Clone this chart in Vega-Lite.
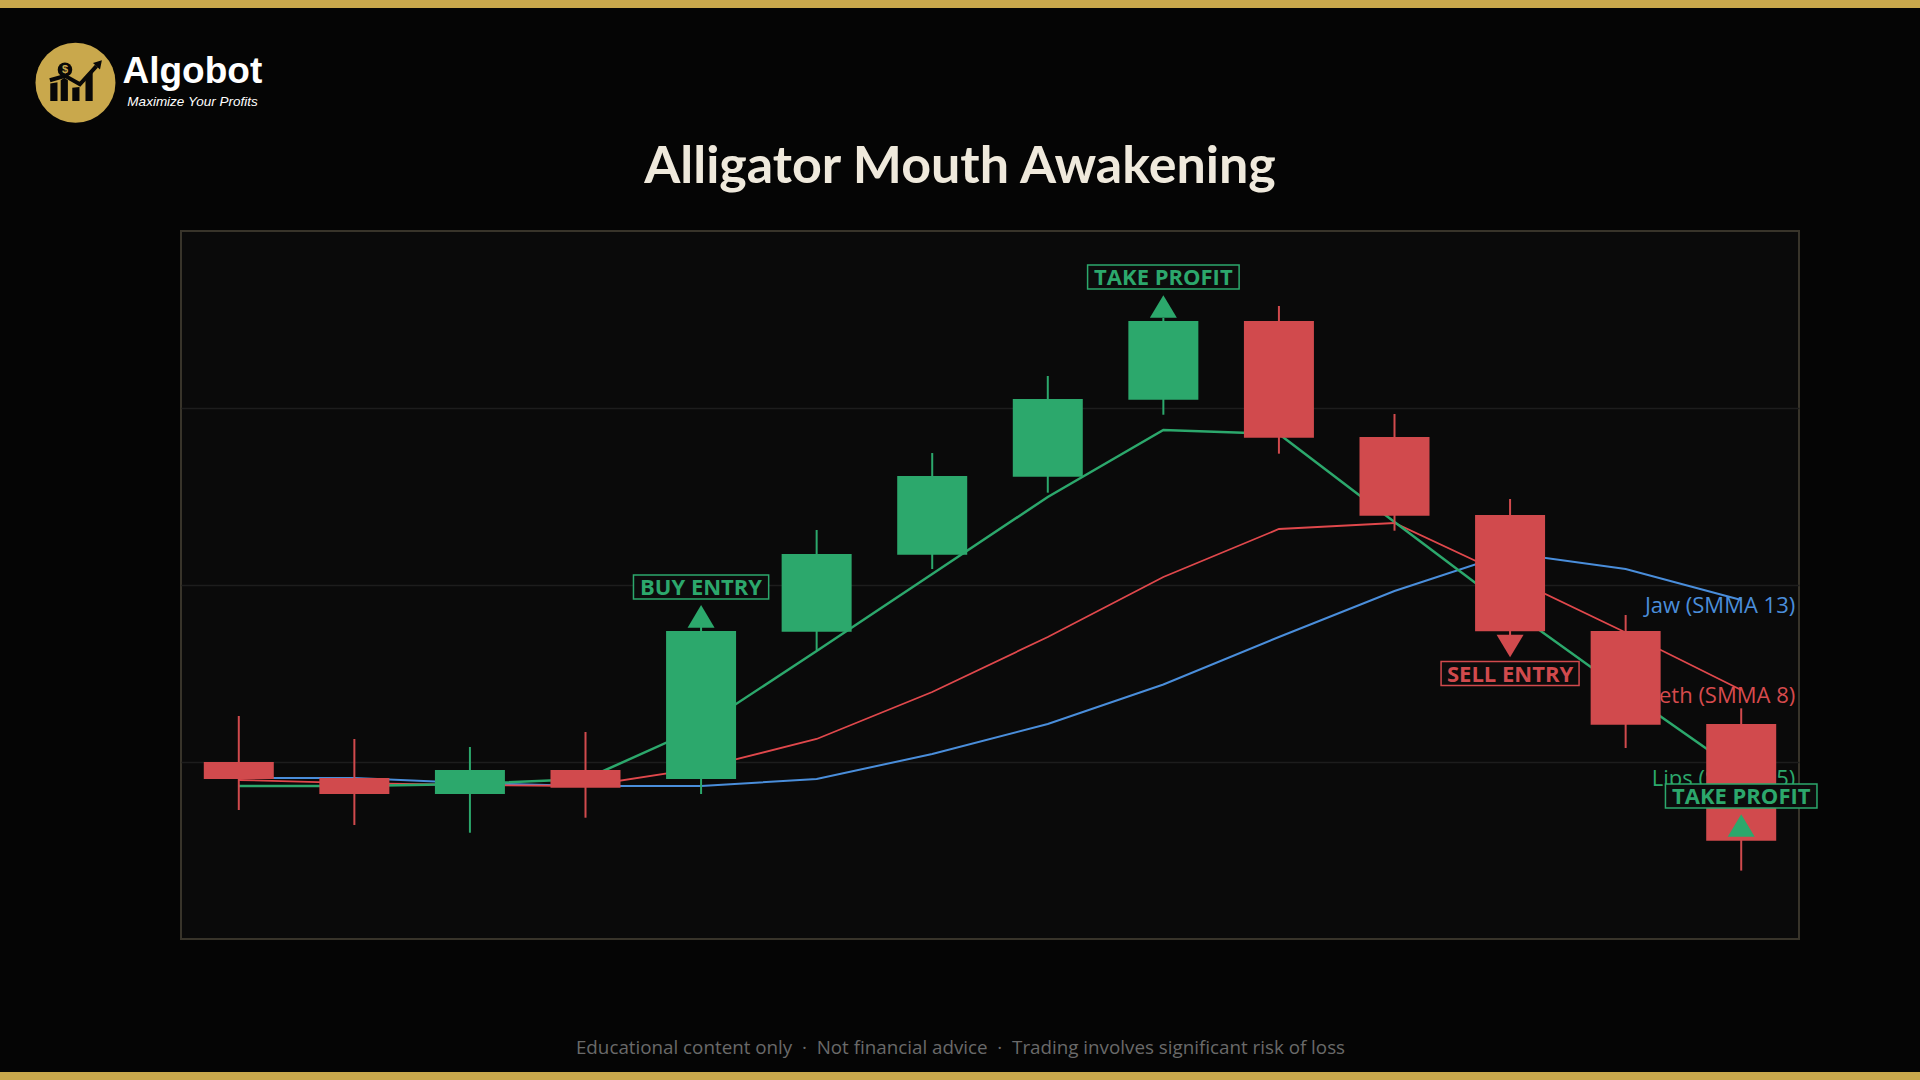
{
  "$schema": "https://vega.github.io/schema/vega-lite/v6.json",
  "width": 1618,
  "height": 708,
  "autosize": {"type": "none"},
  "padding": {"left": 181, "top": 231, "right": 121, "bottom": 141},
  "background": "#050505",
  "config": {
    "view": {"fill": "#0a0a0a", "stroke": "#38342a", "strokeWidth": 2},
    "axis": {"domain": false, "ticks": false, "labels": false, "grid": false},
    "axisY": {"grid": true, "gridColor": "#1d1d1d", "gridWidth": 1.5}
  },
  "datasets": {
    "candles": [
      {"i": 0, "open": 25.00, "high": 31.50, "low": 18.22, "close": 22.60, "dir": "down"},
      {"i": 1, "open": 22.74, "high": 28.25, "low": 16.10, "close": 20.48, "dir": "down"},
      {"i": 2, "open": 20.48, "high": 27.12, "low": 15.01, "close": 23.87, "dir": "up"},
      {"i": 3, "open": 23.87, "high": 29.24, "low": 17.13, "close": 21.37, "dir": "down"},
      {"i": 4, "open": 22.60, "high": 44.21, "low": 20.48, "close": 43.50, "dir": "up"},
      {"i": 5, "open": 43.40, "high": 57.77, "low": 40.82, "close": 54.38, "dir": "up"},
      {"i": 6, "open": 54.28, "high": 68.64, "low": 52.26, "close": 65.40, "dir": "up"},
      {"i": 7, "open": 65.30, "high": 79.52, "low": 63.04, "close": 76.27, "dir": "up"},
      {"i": 8, "open": 76.17, "high": 87.71, "low": 74.05, "close": 87.29, "dir": "up"},
      {"i": 9, "open": 87.29, "high": 89.41, "low": 68.55, "close": 70.81, "dir": "down"},
      {"i": 10, "open": 70.90, "high": 74.15, "low": 57.67, "close": 59.79, "dir": "down"},
      {"i": 11, "open": 59.89, "high": 62.15, "low": 42.80, "close": 43.46, "dir": "down"},
      {"i": 12, "open": 43.50, "high": 45.76, "low": 26.98, "close": 30.27, "dir": "down"},
      {"i": 13, "open": 30.37, "high": 32.58, "low": 9.66, "close": 13.88, "dir": "down"}
    ],
    "lines": [
      {"name": "Jaw (SMMA 13)", "i": 0, "v": 22.74},
      {"name": "Jaw (SMMA 13)", "i": 1, "v": 22.74},
      {"name": "Jaw (SMMA 13)", "i": 2, "v": 22.03},
      {"name": "Jaw (SMMA 13)", "i": 3, "v": 21.61},
      {"name": "Jaw (SMMA 13)", "i": 4, "v": 21.61},
      {"name": "Jaw (SMMA 13)", "i": 5, "v": 22.60},
      {"name": "Jaw (SMMA 13)", "i": 6, "v": 26.13},
      {"name": "Jaw (SMMA 13)", "i": 7, "v": 30.37},
      {"name": "Jaw (SMMA 13)", "i": 8, "v": 35.95},
      {"name": "Jaw (SMMA 13)", "i": 9, "v": 42.66},
      {"name": "Jaw (SMMA 13)", "i": 10, "v": 49.15},
      {"name": "Jaw (SMMA 13)", "i": 11, "v": 54.50},
      {"name": "Jaw (SMMA 13)", "i": 12, "v": 52.26},
      {"name": "Jaw (SMMA 13)", "i": 13, "v": 47.88},
      {"name": "Teeth (SMMA 8)", "i": 0, "v": 22.46},
      {"name": "Teeth (SMMA 8)", "i": 1, "v": 22.03},
      {"name": "Teeth (SMMA 8)", "i": 2, "v": 21.75},
      {"name": "Teeth (SMMA 8)", "i": 3, "v": 21.61},
      {"name": "Teeth (SMMA 8)", "i": 4, "v": 24.15},
      {"name": "Teeth (SMMA 8)", "i": 5, "v": 28.25},
      {"name": "Teeth (SMMA 8)", "i": 6, "v": 34.89},
      {"name": "Teeth (SMMA 8)", "i": 7, "v": 42.66},
      {"name": "Teeth (SMMA 8)", "i": 8, "v": 51.13},
      {"name": "Teeth (SMMA 8)", "i": 9, "v": 57.91},
      {"name": "Teeth (SMMA 8)", "i": 10, "v": 58.76},
      {"name": "Teeth (SMMA 8)", "i": 11, "v": 51.13},
      {"name": "Teeth (SMMA 8)", "i": 12, "v": 43.29},
      {"name": "Teeth (SMMA 8)", "i": 13, "v": 35.17},
      {"name": "Lips (SMMA 5)", "i": 0, "v": 21.61},
      {"name": "Lips (SMMA 5)", "i": 1, "v": 21.61},
      {"name": "Lips (SMMA 5)", "i": 2, "v": 21.89},
      {"name": "Lips (SMMA 5)", "i": 3, "v": 22.60},
      {"name": "Lips (SMMA 5)", "i": 4, "v": 29.94},
      {"name": "Lips (SMMA 5)", "i": 5, "v": 40.68},
      {"name": "Lips (SMMA 5)", "i": 6, "v": 51.55},
      {"name": "Lips (SMMA 5)", "i": 7, "v": 62.43},
      {"name": "Lips (SMMA 5)", "i": 8, "v": 71.89},
      {"name": "Lips (SMMA 5)", "i": 9, "v": 71.33},
      {"name": "Lips (SMMA 5)", "i": 10, "v": 58.90},
      {"name": "Lips (SMMA 5)", "i": 11, "v": 46.61},
      {"name": "Lips (SMMA 5)", "i": 12, "v": 34.89},
      {"name": "Lips (SMMA 5)", "i": 13, "v": 23.45}
    ],
    "signals": [
      {"i": 4, "label": "BUY ENTRY", "side": "up", "box": 49.72, "marker": 45.56, "dir": "up"},
      {"i": 8, "label": "TAKE PROFIT", "side": "up", "box": 93.50, "marker": 89.34, "dir": "up"},
      {"i": 11, "label": "SELL ENTRY", "side": "down", "box": 37.50, "marker": 41.38, "dir": "down"},
      {"i": 13, "label": "TAKE PROFIT", "side": "up", "box": 20.20, "marker": 16.03, "dir": "up"}
    ]
  },
  "layer": [
    {
      "data": {"values": [{}]},
      "mark": {"type": "rect", "color": "#c9a84c", "clip": false},
      "encoding": {
        "x": {"datum": -2.3, "type": "quantitative", "scale": {"domain": [-0.5, 13.5], "nice": false, "zero": false, "padding": 0}},
        "x2": {"datum": 14.8},
        "y": {"datum": 133.5, "type": "quantitative", "scale": {"domain": [0, 100], "nice": false, "zero": false}},
        "y2": {"datum": 131.5}
      }
    },
    {
      "data": {"values": [{}]},
      "mark": {"type": "rect", "color": "#c9a84c", "clip": false},
      "encoding": {
        "x": {"datum": -2.3, "type": "quantitative", "scale": {"domain": [-0.5, 13.5], "nice": false, "zero": false, "padding": 0}},
        "x2": {"datum": 14.8},
        "y": {"datum": -18.79, "type": "quantitative", "scale": {"domain": [0, 100], "nice": false, "zero": false}},
        "y2": {"datum": -20.5}
      }
    },
    {
      "data": {"values": [{}]},
      "mark": {"type": "text", "text": "Alligator Mouth Awakening", "font": "Lato", "fontSize": 52, "fontWeight": "bold", "color": "#efe9dc", "align": "center", "baseline": "alphabetic", "clip": false},
      "encoding": {
        "x": {"datum": 6.2405, "type": "quantitative", "scale": {"domain": [-0.5, 13.5], "nice": false, "zero": false, "padding": 0}},
        "y": {"datum": 106.82, "type": "quantitative", "scale": {"domain": [0, 100], "nice": false, "zero": false}}
      }
    },
    {
      "data": {"values": [{}]},
      "mark": {"type": "point", "shape": "circle", "size": 6400, "filled": true, "color": "#c9a84c", "opacity": 1, "clip": false},
      "encoding": {
        "x": {"datum": -1.413, "type": "quantitative", "scale": {"domain": [-0.5, 13.5], "nice": false, "zero": false, "padding": 0}},
        "y": {"datum": 120.95, "type": "quantitative", "scale": {"domain": [0, 100], "nice": false, "zero": false}}
      }
    },
    {
      "data": {"values": [{}]},
      "mark": {"type": "point", "shape": "M-0.63,0.02L-0.45,-0.01L-0.45,0.46L-0.63,0.46Z M-0.37,-0.06L-0.28,-0.12L-0.19,-0.06L-0.19,0.46L-0.37,0.46Z M-0.08,0.13L0.10,0.11L0.10,0.46L-0.08,0.46Z M0.25,-0.12L0.43,-0.28L0.43,0.46L0.25,0.46Z M0.66,-0.56L0.613,-0.332L0.437,-0.494Z", "size": 6400, "filled": true, "color": "#080808", "opacity": 1, "clip": false},
      "encoding": {
        "x": {"datum": -1.413, "type": "quantitative", "scale": {"domain": [-0.5, 13.5], "nice": false, "zero": false, "padding": 0}},
        "y": {"datum": 120.95, "type": "quantitative", "scale": {"domain": [0, 100], "nice": false, "zero": false}}
      }
    },
    {
      "data": {"values": [{}]},
      "mark": {"type": "point", "shape": "M-0.64,-0.06L-0.26,-0.17L0.11,0.04L0.525,-0.413", "size": 6400, "filled": false, "fill": "transparent", "stroke": "#080808", "strokeWidth": 4, "opacity": 1, "clip": false},
      "encoding": {
        "x": {"datum": -1.413, "type": "quantitative", "scale": {"domain": [-0.5, 13.5], "nice": false, "zero": false, "padding": 0}},
        "y": {"datum": 120.95, "type": "quantitative", "scale": {"domain": [0, 100], "nice": false, "zero": false}}
      }
    },
    {
      "data": {"values": [{}]},
      "mark": {"type": "point", "shape": "circle", "size": 210, "filled": true, "color": "#080808", "opacity": 1, "clip": false},
      "encoding": {
        "x": {"datum": -1.504, "type": "quantitative", "scale": {"domain": [-0.5, 13.5], "nice": false, "zero": false, "padding": 0}},
        "y": {"datum": 122.78, "type": "quantitative", "scale": {"domain": [0, 100], "nice": false, "zero": false}}
      }
    },
    {
      "data": {"values": [{}]},
      "mark": {"type": "text", "text": "$", "font": "Liberation Sans", "fontSize": 11, "fontWeight": "bold", "color": "#c9a84c", "align": "center", "baseline": "middle", "clip": false},
      "encoding": {
        "x": {"datum": -1.504, "type": "quantitative", "scale": {"domain": [-0.5, 13.5], "nice": false, "zero": false, "padding": 0}},
        "y": {"datum": 122.78, "type": "quantitative", "scale": {"domain": [0, 100], "nice": false, "zero": false}}
      }
    },
    {
      "data": {"values": [{}]},
      "mark": {"type": "text", "text": "Algobot", "font": "Liberation Sans", "fontSize": 37, "fontWeight": "bold", "color": "#ffffff", "align": "left", "baseline": "alphabetic", "clip": false},
      "encoding": {
        "x": {"datum": -1.006, "type": "quantitative", "scale": {"domain": [-0.5, 13.5], "nice": false, "zero": false, "padding": 0}},
        "y": {"datum": 120.95, "type": "quantitative", "scale": {"domain": [0, 100], "nice": false, "zero": false}}
      }
    },
    {
      "data": {"values": [{}]},
      "mark": {"type": "text", "text": "Maximize Your Profits", "font": "Liberation Sans", "fontSize": 13.5, "fontStyle": "italic", "color": "#ffffff", "align": "left", "baseline": "alphabetic", "clip": false},
      "encoding": {
        "x": {"datum": -0.964, "type": "quantitative", "scale": {"domain": [-0.5, 13.5], "nice": false, "zero": false, "padding": 0}},
        "y": {"datum": 117.66, "type": "quantitative", "scale": {"domain": [0, 100], "nice": false, "zero": false}}
      }
    },
    {
      "data": {"name": "lines"},
      "transform": [{"filter": "datum.name === 'Jaw (SMMA 13)'"}],
      "mark": {"type": "line", "color": "#4a8edb", "strokeWidth": 2},
      "encoding": {
        "x": {
          "field": "i", "type": "quantitative",
          "scale": {"domain": [-0.5, 13.5], "nice": false, "zero": false, "padding": 0},
          "axis": {
            "title": "Educational content only\u00a0\u00a0·\u00a0\u00a0Not financial advice\u00a0\u00a0·\u00a0\u00a0Trading involves significant risk of loss",
            "titleX": 779, "titleY": 114, "titleBaseline": "alphabetic", "titleAlign": "center",
            "titleFont": "Open Sans", "titleFontSize": 18.8, "titleFontWeight": "normal", "titleColor": "#6a6a6a"
          }
        },
        "y": {
          "field": "v", "type": "quantitative",
          "scale": {"domain": [0, 100], "nice": false, "zero": false},
          "axis": {"values": [25, 50, 75], "title": null}
        }
      }
    },
    {
      "data": {"name": "lines"},
      "transform": [{"filter": "datum.name === 'Teeth (SMMA 8)'"}],
      "mark": {"type": "line", "color": "#e0484c", "strokeWidth": 1.8},
      "encoding": {
        "x": {"field": "i", "type": "quantitative", "scale": {"domain": [-0.5, 13.5], "nice": false, "zero": false, "padding": 0}},
        "y": {"field": "v", "type": "quantitative", "scale": {"domain": [0, 100], "nice": false, "zero": false}}
      }
    },
    {
      "data": {"name": "lines"},
      "transform": [{"filter": "datum.name === 'Lips (SMMA 5)'"}],
      "mark": {"type": "line", "color": "#2ca86c", "strokeWidth": 2.5},
      "encoding": {
        "x": {"field": "i", "type": "quantitative", "scale": {"domain": [-0.5, 13.5], "nice": false, "zero": false, "padding": 0}},
        "y": {"field": "v", "type": "quantitative", "scale": {"domain": [0, 100], "nice": false, "zero": false}}
      }
    },
    {
      "data": {"name": "lines"},
      "transform": [{"filter": "datum.i === 13"}],
      "mark": {"type": "text", "align": "right", "baseline": "middle", "dx": 54, "dy": 6, "font": "Open Sans", "fontSize": 22, "clip": false},
      "encoding": {
        "x": {"field": "i", "type": "quantitative", "scale": {"domain": [-0.5, 13.5], "nice": false, "zero": false, "padding": 0}},
        "y": {"field": "v", "type": "quantitative", "scale": {"domain": [0, 100], "nice": false, "zero": false}},
        "text": {"field": "name"},
        "fill": {
          "field": "name", "type": "nominal",
          "scale": {"domain": ["Jaw (SMMA 13)", "Teeth (SMMA 8)", "Lips (SMMA 5)"], "range": ["#4a8edb", "#d64a4d", "#2ca86c"]},
          "legend": null
        }
      }
    },
    {
      "data": {"name": "candles"},
      "mark": {"type": "rule", "strokeWidth": 2},
      "encoding": {
        "x": {"field": "i", "type": "quantitative", "scale": {"domain": [-0.5, 13.5], "nice": false, "zero": false, "padding": 0}},
        "y": {"field": "low", "type": "quantitative", "scale": {"domain": [0, 100], "nice": false, "zero": false}},
        "y2": {"field": "high"},
        "color": {"field": "dir", "type": "nominal", "scale": {"domain": ["up", "down"], "range": ["#2ca86c", "#d14a4d"]}, "legend": null}
      }
    },
    {
      "data": {"name": "candles"},
      "mark": {"type": "bar", "width": 70},
      "encoding": {
        "x": {"field": "i", "type": "quantitative", "scale": {"domain": [-0.5, 13.5], "nice": false, "zero": false, "padding": 0}},
        "y": {"field": "open", "type": "quantitative", "scale": {"domain": [0, 100], "nice": false, "zero": false}},
        "y2": {"field": "close"},
        "color": {"field": "dir", "type": "nominal", "scale": {"domain": ["up", "down"], "range": ["#2ca86c", "#d14a4d"]}, "legend": null}
      }
    },
    {
      "data": {"name": "signals"},
      "mark": {"type": "point", "size": 25600, "filled": false, "fill": "#0c0c0c", "fillOpacity": 1, "strokeWidth": 1.5, "opacity": 1, "clip": false},
      "encoding": {
        "x": {"field": "i", "type": "quantitative", "scale": {"domain": [-0.5, 13.5], "nice": false, "zero": false, "padding": 0}},
        "y": {"field": "box", "type": "quantitative", "scale": {"domain": [0, 100], "nice": false, "zero": false}},
        "shape": {
          "field": "label", "type": "nominal",
          "scale": {
            "domain": ["BUY ENTRY", "TAKE PROFIT", "SELL ENTRY"],
            "range": ["M-0.845,-0.15L0.845,-0.15L0.845,0.15L-0.845,0.15Z", "M-0.947,-0.15L0.947,-0.15L0.947,0.15L-0.947,0.15Z", "M-0.8625,-0.15L0.8625,-0.15L0.8625,0.15L-0.8625,0.15Z"]
          },
          "legend": null
        },
        "stroke": {"field": "side", "type": "nominal", "scale": {"domain": ["up", "down"], "range": ["#2ca86c", "#d14a4d"]}, "legend": null}
      }
    },
    {
      "data": {"name": "signals"},
      "mark": {"type": "text", "font": "Open Sans", "fontSize": 22, "fontWeight": "bold", "align": "center", "baseline": "middle", "dy": 1, "clip": false},
      "encoding": {
        "x": {"field": "i", "type": "quantitative", "scale": {"domain": [-0.5, 13.5], "nice": false, "zero": false, "padding": 0}},
        "y": {"field": "box", "type": "quantitative", "scale": {"domain": [0, 100], "nice": false, "zero": false}},
        "text": {"field": "label"},
        "color": {"field": "side", "type": "nominal", "scale": {"domain": ["up", "down"], "range": ["#2ca86c", "#d14a4d"]}, "legend": null}
      }
    },
    {
      "data": {"name": "signals"},
      "mark": {"type": "point", "size": 729, "filled": true, "opacity": 1, "clip": false},
      "encoding": {
        "x": {"field": "i", "type": "quantitative", "scale": {"domain": [-0.5, 13.5], "nice": false, "zero": false, "padding": 0}},
        "y": {"field": "marker", "type": "quantitative", "scale": {"domain": [0, 100], "nice": false, "zero": false}},
        "shape": {
          "field": "dir", "type": "nominal",
          "scale": {"domain": ["up", "down"], "range": ["M0,-0.84L1,0.84L-1,0.84Z", "M0,0.84L1,-0.84L-1,-0.84Z"]},
          "legend": null
        },
        "color": {"field": "side", "type": "nominal", "scale": {"domain": ["up", "down"], "range": ["#2ca86c", "#d14a4d"]}, "legend": null}
      }
    }
  ],
  "resolve": {"scale": {"shape": "independent"}}
}
